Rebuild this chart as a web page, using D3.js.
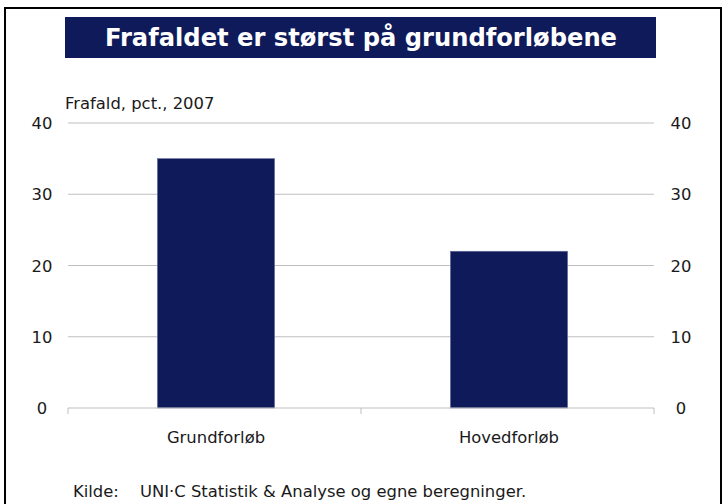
<!DOCTYPE html>
<html><head><meta charset="utf-8">
<script src="https://cdn.jsdelivr.net/npm/d3@7"></script>
<style>body{margin:0;background:#fff}svg{display:block}text{font-family:"DejaVu Sans",Verdana,sans-serif}</style>
</head><body>
<script>
const categories = ["Grundforløb", "Hovedforløb"];
const values = [35, 22];
const yTicks = [0, 10, 20, 30, 40];
const title = "Frafaldet er størst på grundforløbene";
const yLabel = "Frafald, pct., 2007";

const W = 723, H = 504, FS = 16.4, TC = "#1a1a1a";
const svg = d3.select("body").append("svg").attr("width", W).attr("height", H);
svg.append("rect").attr("x", 5).attr("y", 8).attr("width", 716).attr("height", 510)
  .attr("fill", "none").attr("stroke", "#000").attr("stroke-width", 2);
svg.append("rect").attr("x", 65).attr("y", 17).attr("width", 591).attr("height", 41).attr("fill", "#0f1a5a");
svg.append("text").attr("x", 361).attr("y", 46).attr("text-anchor", "middle")
  .attr("fill", "#fff").attr("font-weight", "bold").attr("font-size", 24.2).text(title);

const x0 = 68, x1 = 654, yTop = 123, yBot = 408;
const x = d3.scaleBand().domain(categories).range([x0, x1]).paddingInner(0.6).paddingOuter(0.3);
const y = d3.scaleLinear().domain([0, 40]).range([yBot, yTop]);

svg.append("g").selectAll("line").data(yTicks.filter(d => d > 0)).join("line")
  .attr("x1", x0).attr("x2", x1).attr("y1", d => y(d)).attr("y2", d => y(d))
  .attr("stroke", "#bfbfbf").attr("stroke-width", 1.2);

svg.append("g").selectAll("rect").data(values).join("rect")
  .attr("x", (d, i) => x(categories[i]) + 1.5).attr("width", x.bandwidth())
  .attr("y", d => y(d)).attr("height", d => yBot - y(d))
  .attr("fill", "#0f1a5a").attr("stroke", "#6a70a0").attr("stroke-width", 0.6);

// bottom axis
const xb = d3.scalePoint().domain([0, 1, 2]).range([x0, x1]);
svg.append("line").attr("x1", x0).attr("x2", x1).attr("y1", yBot).attr("y2", yBot).attr("stroke", "#bfbfbf").attr("stroke-width", 1.2);
svg.append("g").selectAll("line").data([0, 1, 2]).join("line")
  .attr("x1", d => xb(d)).attr("x2", d => xb(d)).attr("y1", yBot).attr("y2", yBot + 6).attr("stroke", "#bfbfbf");

svg.append("g").selectAll("text").data(categories).join("text")
  .attr("x", d => x(d) + x.bandwidth() / 2 + 1.5).attr("y", 443).attr("text-anchor", "middle")
  .attr("font-size", FS).attr("fill", TC).text(d => d);

svg.append("g").selectAll("text").data(yTicks).join("text")
  .attr("x", 42).attr("y", d => y(d) + 6).attr("text-anchor", "middle").attr("font-size", FS).attr("fill", TC).text(d => d);
svg.append("g").selectAll("text").data(yTicks).join("text")
  .attr("x", 681).attr("y", d => y(d) + 6).attr("text-anchor", "middle").attr("font-size", FS).attr("fill", TC).text(d => d);

svg.append("text").attr("x", 65).attr("y", 109).attr("font-size", FS).attr("fill", TC).text(yLabel);
svg.append("text").attr("x", 73).attr("y", 497).attr("font-size", FS).attr("fill", TC).text("Kilde:");
svg.append("text").attr("x", 140).attr("y", 497).attr("font-size", FS).attr("fill", TC).text("UNI·C Statistik & Analyse og egne beregninger.");
</script>
</body></html>
